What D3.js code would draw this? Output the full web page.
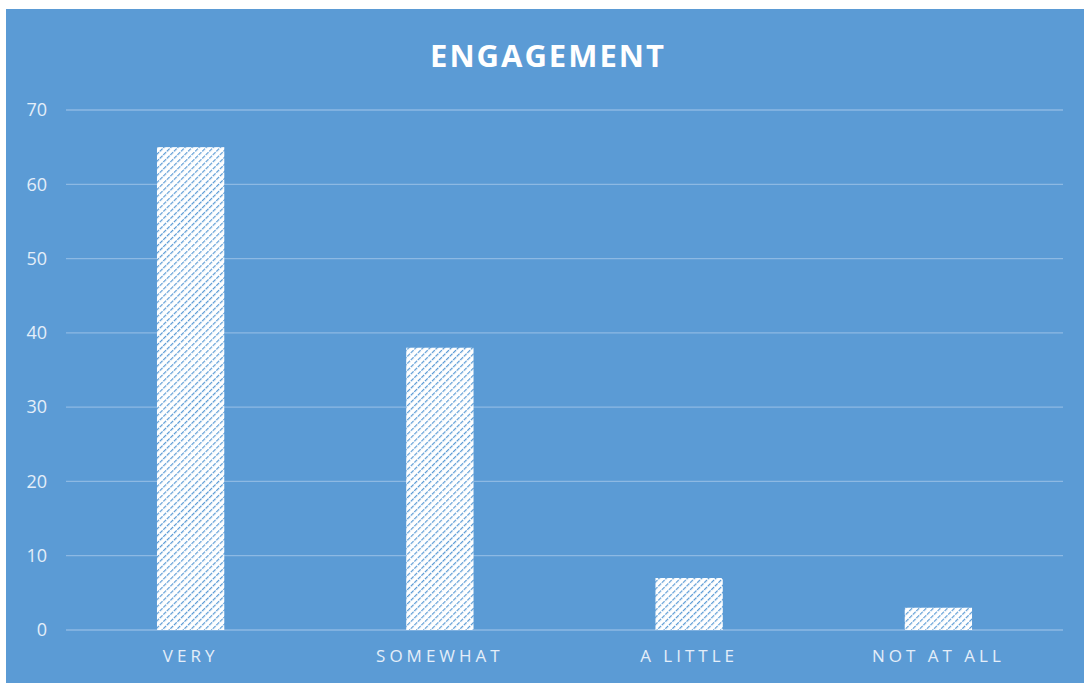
<!DOCTYPE html>
<html>
<head>
<meta charset="utf-8">
<script src="https://cdn.jsdelivr.net/npm/d3@7"></script>
<style>
  body { margin: 0; background: #fff; }
  svg { display: block; }
  text { font-family: "Open Sans", "Liberation Sans", sans-serif; }
</style>
</head>
<body>
<div id="chart"></div>
<script>
// data
var categories = ["VERY", "SOMEWHAT", "A LITTLE", "NOT AT ALL"];
var values = [65, 38, 7, 3];
var yTicks = [0, 10, 20, 30, 40, 50, 60, 70];

var W = 1084, H = 683;
var margin = {top: 110, right: 21, bottom: 53, left: 66},
    width = W - margin.left - margin.right,
    height = H - margin.top - margin.bottom;

var svg = d3.select("#chart").append("svg")
    .attr("width", W)
    .attr("height", H);

// stripe pattern
var defs = svg.append("defs");
var pat = defs.append("pattern")
    .attr("id", "stripes")
    .attr("patternUnits", "userSpaceOnUse")
    .attr("width", 5)
    .attr("height", 5)
    .attr("patternTransform", "rotate(45)");
pat.append("rect").attr("width", 5).attr("height", 5).attr("fill", "#ffffff");
pat.append("line")
    .attr("x1", 0).attr("y1", 0).attr("x2", 0).attr("y2", 5)
    .attr("stroke", "#5b9bd5")
    .attr("stroke-width", 2.4)
    .attr("stroke-dasharray", "3,1");

// panel background
svg.append("rect")
    .attr("x", 6).attr("y", 9)
    .attr("width", W - 6).attr("height", H - 9)
    .attr("fill", "#5b9bd5");

svg.append("text")
    .attr("x", 548)
    .attr("y", 67)
    .attr("text-anchor", "middle")
    .attr("fill", "#ffffff")
    .style("font-size", "31px")
    .style("font-weight", "bold")
    .style("letter-spacing", "2px")
    .text("ENGAGEMENT");

var g = svg.append("g")
    .attr("transform", "translate(" + margin.left + "," + margin.top + ")");

var x = d3.scaleBand()
    .domain(categories)
    .range([0, width])
    .paddingInner(0.73)
    .paddingOuter(0.365);

var y = d3.scaleLinear()
    .domain([0, 70])
    .range([height, 0]);

// gridlines
g.append("g")
  .selectAll("line")
  .data(yTicks)
  .enter()
  .append("line")
    .attr("x1", 0).attr("x2", width)
    .attr("y1", function(d) { return y(d); })
    .attr("y2", function(d) { return y(d); })
    .attr("stroke", "#8db9e3")
    .attr("stroke-width", 1.3);

// y axis
var yAxis = g.append("g")
    .call(d3.axisLeft(y).tickValues(yTicks).tickSize(0).tickPadding(19));
yAxis.select(".domain").remove();
yAxis.selectAll("text")
    .attr("fill", "#e4eef9")
    .style("font-size", "18px");

// x axis
var xAxis = g.append("g")
    .attr("transform", "translate(0," + height + ")")
    .call(d3.axisBottom(x).tickSize(0).tickPadding(20));
xAxis.select(".domain").remove();
xAxis.selectAll("text")
    .attr("fill", "#e4eef9")
    .style("font-size", "17px")
    .style("letter-spacing", "4px");

// bars
g.selectAll(".bar")
    .data(values)
    .enter()
    .append("rect")
    .attr("class", "bar")
    .attr("x", function(d, i) { return x(categories[i]); })
    .attr("y", function(d) { return y(d); })
    .attr("width", x.bandwidth())
    .attr("height", function(d) { return height - y(d); })
    .attr("fill", "url(#stripes)");
</script>
</body>
</html>
